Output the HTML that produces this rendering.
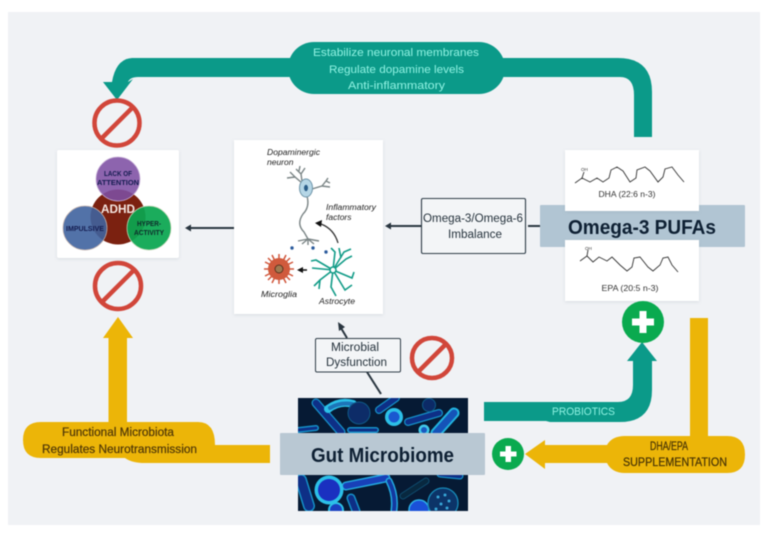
<!DOCTYPE html>
<html lang="en">
<head>
<meta charset="utf-8">
<title>Omega-3 PUFAs and the Gut Microbiome in ADHD</title>
<style>
html,body{margin:0;padding:0;background:#fff;width:771px;height:533px;overflow:hidden}
svg{display:block;filter:blur(.4px)}
text{font-family:"Liberation Sans",sans-serif}
</style>
</head>
<body>
<svg width="771" height="533" viewBox="0 0 771 533" xmlns="http://www.w3.org/2000/svg">
<defs>
<clipPath id="bac"><rect x="298" y="398" width="170" height="113"/></clipPath>
<filter id="sh" x="-10%" y="-10%" width="120%" height="120%"><feDropShadow dx="0" dy="1" stdDeviation="1.5" flood-color="#8a98a5" flood-opacity=".25"/></filter>
</defs>
<rect width="771" height="533" fill="#fff"/>
<rect x="8" y="12" width="752" height="513" fill="#f0f2f5"/>

<!-- top teal arrow -->
<path d="M652,137 V92 Q652,58 618,58 H132 Q116,59 112,82 L103,82 L117,100 L133,79 L128,82 Q130,77 138,77 H620 Q634,77 634,95 V137 Z" fill="#0b9a89"/>
<rect x="288" y="42" width="217" height="52" rx="26" fill="#0b9a89"/>
<g fill="#8ff2e2" font-size="11">
<text x="313" y="56" textLength="166" lengthAdjust="spacingAndGlyphs">Estabilize neuronal membranes</text>
<text x="329" y="73" textLength="135" lengthAdjust="spacingAndGlyphs">Regulate dopamine levels</text>
<text x="348" y="89" textLength="97" lengthAdjust="spacingAndGlyphs">Anti-inflammatory</text>
</g>

<!-- no signs -->
<g fill="none" stroke="#d1463a" stroke-width="4.500">
<circle cx="117" cy="123" r="22.500"/><path d="M101,139 L133,107"/>
<circle cx="118" cy="286" r="23"/><path d="M102,302 L134,270"/>
<circle cx="432" cy="358" r="20"/><path d="M418,372 L446,344"/>
</g>

<!-- ADHD card -->
<rect x="57" y="150" width="122" height="108" rx="2" fill="#fff" filter="url(#sh)"/>
<circle cx="118" cy="217" r="27.500" fill="#7b2110"/>
<circle cx="118" cy="179" r="22" fill="#7d4fa3" fill-opacity=".88" stroke="#c9b2d8" stroke-width=".7"/>
<circle cx="85" cy="228" r="22" fill="#3f639f" fill-opacity=".9" stroke="#c5b3ad" stroke-width=".7"/>
<circle cx="149" cy="228" r="22" fill="#0aa650" fill-opacity=".93" stroke="#c7d8b8" stroke-width=".7"/>
<text x="118" y="213" text-anchor="middle" font-size="11.500" font-weight="bold" fill="#f4e6e0" textLength="34" lengthAdjust="spacingAndGlyphs">ADHD</text>
<g font-size="7" font-weight="bold" fill="#141c50" text-anchor="middle">
<text x="118" y="176" textLength="28" lengthAdjust="spacingAndGlyphs">LACK OF</text>
<text x="118" y="185" textLength="42" lengthAdjust="spacingAndGlyphs">ATTENTION</text>
<text x="85" y="231" textLength="38" lengthAdjust="spacingAndGlyphs">IMPULSIVE</text>
<text x="149" y="226" fill="#0d2a2a" textLength="24" lengthAdjust="spacingAndGlyphs">HYPER-</text>
<text x="149" y="235" fill="#0d2a2a" textLength="30" lengthAdjust="spacingAndGlyphs">ACTIVITY</text>
</g>

<!-- neuron card -->
<rect x="234" y="140" width="149" height="174" fill="#fff" filter="url(#sh)"/>
<g font-style="italic" font-size="8.500" fill="#222">
<text x="267" y="155" textLength="53" lengthAdjust="spacingAndGlyphs">Dopaminergic</text>
<text x="267" y="165">neuron</text>
<text x="326" y="210" textLength="50" lengthAdjust="spacingAndGlyphs">Inflammatory</text>
<text x="326" y="220">factors</text>
<text x="261" y="297" textLength="36" lengthAdjust="spacingAndGlyphs">Microglia</text>
<text x="319" y="304" textLength="36" lengthAdjust="spacingAndGlyphs">Astrocyte</text>
</g>
<g fill="none" stroke="#7b8586" stroke-width="1.400">
<path d="M307,196 Q310,207 303,214 Q296,224 304,232 L308,239"/>
<path d="M302,183 L295,177 L287,178 M295,177 L290,172 M302,181 L301,174 L296,169 M301,174 L305,168 M299,171 L300,166"/>
<path d="M312,189 L322,186 L330,187 M322,186 L326,181 L330,183 M326,181 L328,178"/>
<path d="M308,239 L298,241 M308,239 L302,244 M308,239 L308,245 M308,239 L314,244 M308,239 L319,241"/>
</g>
<ellipse cx="306" cy="188" rx="6.500" ry="9" fill="#b5d6e6" stroke="#6e94a8"/>
<ellipse cx="306" cy="188" rx="2" ry="3.200" fill="#2a5d88"/>
<path d="M338,243 Q334,229 321,224" fill="none" stroke="#333" stroke-width="1.300"/>
<path d="M315,223 L322,220 L321,227 Z" fill="#111"/>
<g fill="#2b5a9c"><circle cx="292" cy="248" r="1.700"/><circle cx="313" cy="248" r="1.700"/><circle cx="326" cy="252" r="1.700"/></g>
<g stroke="#d0553a" stroke-width="1.500">
<path d="M279,254V284M264,269H294M268,258L290,280M290,258L268,280M272,255L286,283M286,255L272,283M265,262L293,276M293,262L265,276"/>
</g>
<circle cx="279" cy="269" r="11" fill="#d05a3c"/>
<circle cx="279" cy="269" r="4" fill="#a07a50" stroke="#5c3320"/>
<path d="M307,270 H302" stroke="#111" stroke-width="1.500"/><path d="M297,270 L303,267 V273 Z" fill="#111"/>
<g fill="none" stroke="#139c88" stroke-width="1.600">
<path d="M333,270 L316,260 L311,261 M333,270 L312,268 M333,270 L320,280 L314,286 M320,280 L319,289 M333,270 L331,287 L336,296 M333,270 L345,290 L352,285 M333,270 L352,278 L354,272 M333,270 L346,259 L352,256 M333,270 L344,252 L351,249 M333,270 L335,252 L331,248 M341,258 L339,248"/>
</g>
<circle cx="333" cy="270" r="3" fill="#fff" stroke="#0f9a85" stroke-width="1.500"/>

<!-- dark arrows -->
<g stroke="#2a3640" stroke-width="2" fill="#2a3640">
<path d="M234,228 H190" fill="none"/><path d="M185,228 L191,224.500 V231.500 Z" stroke="none"/>
<path d="M421,226 H390" fill="none"/><path d="M385,226 L391,222.500 V229.500 Z" stroke="none"/>
<path d="M528,226 H541" fill="none"/>
<path d="M367,372 L381,394" fill="none"/>
<path d="M347,338 L341,328" fill="none"/><path d="M338,322 L345,327 L339,331 Z" stroke="none"/>
</g>

<!-- Omega -->
<rect x="540" y="205" width="205" height="42" rx="1" fill="#b1c5d3"/>
<rect x="565" y="150" width="134" height="61" fill="#fff" filter="url(#sh)"/>
<rect x="565" y="240" width="134" height="61" fill="#fff" filter="url(#sh)"/>
<text x="568" y="234" font-size="20" font-weight="bold" fill="#0e2033" textLength="148" lengthAdjust="spacingAndGlyphs">Omega-3 PUFAs</text>
<g fill="none" stroke="#333" stroke-width=".9">
<polyline points="575,183 582,178 590,182 597,178 603,182 609,178 611,170 617,167 623,171 630,182 636,178 637,170 645,167 650,171 658,182 663,177 665,169 672,167 678,175 684,182"/>
<path d="M582,178 L584,172"/>
<polyline points="580,261 587,256 593,262 599,257 607,261 612,257 620,265 627,271 632,267 634,258 640,257 648,267 653,271 660,265 663,258 668,257 672,265 678,272"/>
<path d="M587,256 L588,250"/>
</g>
<g font-size="4.500" fill="#333"><text x="581" y="171">OH</text><text x="585" y="250">OH</text></g>
<g font-size="8" fill="#333" text-anchor="middle">
<text x="627" y="197" textLength="57" lengthAdjust="spacingAndGlyphs">DHA (22:6 n-3)</text>
<text x="630" y="291" textLength="57" lengthAdjust="spacingAndGlyphs">EPA (20:5 n-3)</text>
</g>

<!-- Imbalance box -->
<rect x="421.500" y="198.500" width="104" height="55" rx="1.500" fill="#f3f5f7" stroke="#2f3d48" stroke-width="1.100"/>
<g font-size="11.500" fill="#25323c">
<text x="423" y="222" textLength="100" lengthAdjust="spacingAndGlyphs">Omega-3/Omega-6</text>
<text x="448" y="238" textLength="54" lengthAdjust="spacingAndGlyphs">Imbalance</text>
</g>

<!-- Microbial box -->
<rect x="315.500" y="338.500" width="85" height="33.500" rx="1.500" fill="#f3f5f7" stroke="#2f3d48" stroke-width="1"/>
<g font-size="11.500" fill="#25323c">
<text x="331" y="351" textLength="48" lengthAdjust="spacingAndGlyphs">Microbial</text>
<text x="326" y="366" textLength="61" lengthAdjust="spacingAndGlyphs">Dysfunction</text>
</g>

<!-- bacteria image -->
<g clip-path="url(#bac)">
<rect x="298" y="398" width="170" height="113" fill="#061a34"/>
<g fill="none" stroke-linecap="round">
<g stroke="#1590c8">
<path d="M316,403 L341,432" stroke-width="9"/>
<path d="M379,410 L396,398" stroke-width="8"/>
<path d="M408,422 L439,413" stroke-width="8"/>
<path d="M298,430 L316,428" stroke-width="6"/>
<path d="M350,430 L376,430" stroke-width="6"/>
<path d="M301,480 L309,506" stroke-width="12"/>
<path d="M351,498 L356,511" stroke-width="9"/>
<path d="M403,496 L426,481" stroke-width="7" stroke="#0f4d70"/>
<path d="M440,474 L460,476" stroke-width="7"/>
</g>
<g stroke="#0e2f86">
<path d="M316,403 L341,432" stroke-width="6.500"/>
<path d="M379,410 L396,398" stroke-width="5.500"/>
<path d="M408,422 L439,413" stroke-width="5.500"/>
<path d="M298,430 L316,428" stroke-width="3"/>
<path d="M350,430 L376,430" stroke-width="3"/>
<path d="M301,480 L309,506" stroke-width="9"/>
<path d="M351,498 L356,511" stroke-width="6"/>
<path d="M403,496 L426,481" stroke-width="5" stroke="#08283f"/>
<path d="M440,474 L460,476" stroke-width="4.500"/>
</g>
<path d="M328,409 Q340,400 353,404" stroke="#2cc0e8" stroke-width="8"/>
<path d="M330,408 Q340,402 352,404" stroke="#1d74b8" stroke-width="4"/>
<path d="M436,433 L454,413" stroke="#22b4e0" stroke-width="11"/>
<path d="M436,433 L454,413" stroke="#1553b8" stroke-width="7"/>
<path d="M346,486 L386,478" stroke="#22a8e0" stroke-width="9"/>
<path d="M346,486 L386,478" stroke="#1840b8" stroke-width="6"/>
<path d="M389,481 Q396,495 394,510" stroke="#22a8e0" stroke-width="7"/>
<path d="M389,481 Q396,495 394,510" stroke="#1438a0" stroke-width="4"/>
</g>
<circle cx="359" cy="413" r="11" fill="#0d2c68" stroke="#0f5a88" stroke-width="1"/>
<circle cx="429" cy="405" r="6.500" fill="#0c2a66" stroke="#0f5a88"/>
<circle cx="394" cy="417" r="9" fill="#2cc0e8"/>
<circle cx="394" cy="417" r="5.500" fill="#1a58d0"/>
<circle cx="424" cy="430" r="5.500" fill="#40c8e8"/>
<circle cx="424" cy="430" r="3" fill="#1a58c0"/>
<circle cx="329" cy="490" r="14.500" fill="#2cc0e8"/>
<circle cx="329" cy="490" r="11" fill="#1a30c0"/>
<circle cx="336" cy="510" r="7" fill="#1a40c0" stroke="#2cc0e8" stroke-width="2"/>
<circle cx="419" cy="510" r="10" fill="#1a50d8" stroke="#2cb0e8" stroke-width="1.500"/>
<circle cx="443" cy="503" r="15" fill="#0c3468" stroke="#178ab8" stroke-width="1.300"/>
<g fill="#38a8d8"><circle cx="438" cy="497" r="1.500"/><circle cx="445" cy="495" r="1.500"/><circle cx="449" cy="501" r="1.500"/><circle cx="441" cy="504" r="1.500"/><circle cx="447" cy="508" r="1.500"/><circle cx="436" cy="509" r="1.500"/></g>
</g>
<rect x="280" y="433" width="205" height="42" rx="1" fill="#b9c8d3"/>
<text x="311" y="462" font-size="20" font-weight="bold" fill="#0e2033" textLength="143" lengthAdjust="spacingAndGlyphs">Gut Microbiome</text>

<!-- yellow left -->
<path d="M118,317 L133,338 H127 V422 H198 Q215,422 215,445 H270 V463 H145 Q132,463 125,458 H41 Q23,458 23,440 Q23,422 41,422 H108.500 V338 H103 Z" fill="#ecb508"/>
<g font-size="11.500" fill="#4f3708" stroke="#4f3708" stroke-width=".2">
<text x="62" y="436" textLength="112" lengthAdjust="spacingAndGlyphs">Functional Microbiota</text>
<text x="42" y="453" textLength="155" lengthAdjust="spacingAndGlyphs">Regulates Neurotransmission</text>
</g>

<!-- teal lower -->
<path d="M484,402 H618 Q633,402 633,385 V361 H627 L642,342 L657,361 H652 V390 Q652,422 620,422 H550 L546,421 H484 Z" fill="#0b9a89"/>
<text x="552" y="415" font-size="11" fill="#8ff2e2" textLength="63" lengthAdjust="spacingAndGlyphs">PROBIOTICS</text>
<circle cx="643" cy="322" r="21" fill="#0aaa4f"/>
<path d="M639.500,311 h7 v7.500 h7.500 v7 h-7.500 v7.500 h-7 v-7.500 h-7.500 v-7 h7.500 Z" fill="#fff"/>

<!-- yellow right -->
<path d="M690,318 H708 V436 H727 Q745,436 745,454.500 Q745,473 727,473 H625 Q612,473 607,463 H545 V469 L525,454 L545,440 V445 H607 Q612,436 625,436 H690 Z" fill="#ecb508"/>
<g font-size="11.500" fill="#453206" stroke="#453206" stroke-width=".2">
<text x="650" y="450" textLength="38" lengthAdjust="spacingAndGlyphs">DHA/EPA</text>
<text x="623" y="466" textLength="104" lengthAdjust="spacingAndGlyphs">SUPPLEMENTATION</text>
</g>
<circle cx="508" cy="454" r="16" fill="#0aaa4f"/>
<path d="M505.500,446 h5.500 v5.500 h5.500 v5 h-5.500 v5.500 h-5.500 v-5.500 h-5.500 v-5 h5.500 Z" fill="#fff"/>
</svg>
</body>
</html>
